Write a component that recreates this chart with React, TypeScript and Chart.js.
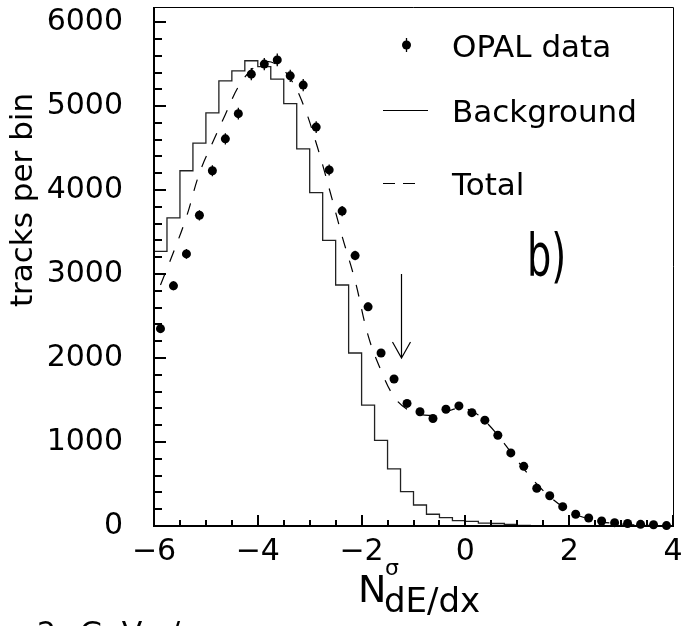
import React, { useEffect, useRef } from "react";
import { Chart, registerables } from "chart.js";

Chart.register(...registerables);

// ---- data ----
const BIN_EDGES = [
  -6, -5.75, -5.5, -5.25, -5, -4.75, -4.5, -4.25, -4, -3.75,
  -3.5, -3.25, -3, -2.75, -2.5, -2.25, -2, -1.75, -1.5, -1.25,
  -1, -0.75, -0.5, -0.25, 0, 0.25, 0.5, 0.75, 1, 1.25,
  1.5, 1.75, 2, 2.25, 2.5, 2.75, 3, 3.25, 3.5, 3.75, 4,
];
const BIN_CENTERS = [
  -5.875, -5.625, -5.375, -5.125, -4.875, -4.625, -4.375, -4.125, -3.875, -3.625,
  -3.375, -3.125, -2.875, -2.625, -2.375, -2.125, -1.875, -1.625, -1.375, -1.125,
  -0.875, -0.625, -0.375, -0.125, 0.125, 0.375, 0.625, 0.875, 1.125, 1.375,
  1.625, 1.875, 2.125, 2.375, 2.625, 2.875, 3.125, 3.375, 3.625, 3.875,
];
const OPAL_DATA = [
  2350, 2860, 3240, 3700, 4230, 4610, 4910, 5380, 5500, 5550,
  5360, 5250, 4750, 4240, 3750, 3220, 2610, 2060, 1750, 1460,
  1360, 1280, 1390, 1430, 1350, 1260, 1080, 870, 710, 450,
  360, 230, 140, 95, 60, 40, 30, 20, 15, 5,
];
const OPAL_ERR = [
  48, 53, 57, 61, 65, 68, 70, 73, 74, 75,
  73, 72, 69, 65, 61, 57, 51, 45, 42, 38,
  37, 36, 37, 38, 37, 35, 33, 29, 27, 21,
  19, 15, 12, 10, 8, 6, 5, 4, 4, 2,
];
const BACKGROUND = [
  2850, 3270, 3670, 4230, 4560, 4920, 5300, 5420, 5540, 5470,
  5320, 5030, 4490, 3970, 3400, 2870, 2060, 1440, 1020, 680,
  410, 250, 140, 100, 65, 55, 35, 30, 18, 8,
  4, 2, 0, 0, 0, 0, 0, 0, 0, 0,
];
const TOTAL = [
  2870, 3260, 3680, 4200, 4560, 4900, 5230, 5430, 5530, 5490,
  5330, 5020, 4560, 4020, 3450, 2920, 2270, 1850, 1540, 1390,
  1330, 1320, 1360, 1400, 1370, 1250, 1080, 880, 680, 500,
  350, 230, 140, 85, 50, 30, 18, 10, 6, 3,
];
const X_TICKS = [-6, -4, -2, 0, 2, 4];
const Y_TICKS = [0, 1000, 2000, 3000, 4000, 5000, 6000];
const Y_MAX = 6180;
const ARROW_X = -1.25;
const ARROW_FROM = 3000;
const ARROW_TO = 2000;

const FONT = '"DejaVu Sans"';

const overlay = {
  id: "overlay",
  afterDatasetsDraw(chart: any) {
    const { ctx, scales } = chart;
    const x = scales.x;
    const y = scales.y;
    ctx.save();
    // error bars
    ctx.strokeStyle = "#000";
    ctx.lineWidth = 1.3;
    ctx.beginPath();
    BIN_CENTERS.forEach((c, i) => {
      const px = x.getPixelForValue(c);
      ctx.moveTo(px, y.getPixelForValue(OPAL_DATA[i] + OPAL_ERR[i]));
      ctx.lineTo(px, y.getPixelForValue(OPAL_DATA[i] - OPAL_ERR[i]));
    });
    ctx.stroke();
    // arrow
    const ax = Math.round(x.getPixelForValue(ARROW_X)) + 0.5;
    const ay0 = y.getPixelForValue(ARROW_FROM);
    const ay1 = y.getPixelForValue(ARROW_TO);
    ctx.lineWidth = 1.2;
    ctx.beginPath();
    ctx.moveTo(ax, ay0);
    ctx.lineTo(ax, ay1);
    ctx.moveTo(ax - 9, ay1 - 16);
    ctx.lineTo(ax, ay1);
    ctx.lineTo(ax + 9, ay1 - 16);
    ctx.stroke();
    ctx.restore();
  },
  afterDraw(chart: any) {
    const { ctx, chartArea: a, scales } = chart;
    const x = scales.x;
    const y = scales.y;
    ctx.save();
    ctx.strokeStyle = "#000";
    ctx.fillStyle = "#000";
    // frame
    ctx.lineWidth = 1;
    ctx.beginPath();
    ctx.moveTo(a.left, a.top + 0.5);
    ctx.lineTo(a.right + 0.5, a.top + 0.5);
    ctx.lineTo(a.right + 0.5, a.bottom);
    ctx.stroke();
    ctx.lineWidth = 2;
    ctx.beginPath();
    ctx.moveTo(a.left, a.top);
    ctx.lineTo(a.left, a.bottom);
    ctx.lineTo(a.right + 1, a.bottom);
    ctx.stroke();
    // y ticks
    ctx.beginPath();
    for (let v = 0; v <= 6000; v += 200) {
      const py = Math.round(y.getPixelForValue(v));
      const len = v % 1000 === 0 ? 12 : 8;
      ctx.moveTo(a.left, py);
      ctx.lineTo(a.left + len, py);
    }
    // x ticks
    for (let v = -6; v <= 4; v += 0.5) {
      const px = Math.round(x.getPixelForValue(v));
      const len = X_TICKS.includes(v) ? 11 : 6;
      ctx.moveTo(px, a.bottom);
      ctx.lineTo(px, a.bottom - len);
    }
    ctx.stroke();

    // legend
    ctx.font = `31px ${FONT}`;
    ctx.textAlign = "left";
    ctx.textBaseline = "alphabetic";
    ctx.fillText("OPAL data", 452, 57);
    ctx.fillText("Background", 452, 122);
    ctx.fillText("Total", 452, 195);
    ctx.beginPath();
    ctx.arc(406.5, 45, 4.5, 0, Math.PI * 2);
    ctx.fill();
    ctx.lineWidth = 1.3;
    ctx.beginPath();
    ctx.moveTo(406.5, 38);
    ctx.lineTo(406.5, 52);
    ctx.stroke();
    ctx.lineWidth = 1.2;
    ctx.beginPath();
    ctx.moveTo(383, 110.5);
    ctx.lineTo(428, 110.5);
    ctx.moveTo(383, 183.5);
    ctx.lineTo(395, 183.5);
    ctx.moveTo(403, 183.5);
    ctx.lineTo(415, 183.5);
    ctx.stroke();

    // b)
    ctx.save();
    ctx.translate(527, 276);
    ctx.scale(0.66, 1);
    ctx.font = `58px ${FONT}`;
    ctx.fillText("b)", 0, 0);
    ctx.restore();

    // y title
    ctx.save();
    ctx.translate(32, 200);
    ctx.rotate(-Math.PI / 2);
    ctx.textAlign = "center";
    ctx.font = `31px ${FONT}`;
    ctx.fillText("tracks per bin", 0, 0);
    ctx.restore();

    // x title
    ctx.textAlign = "left";
    ctx.font = `38px ${FONT}`;
    ctx.fillText("N", 358, 602);
    ctx.font = `22px ${FONT}`;
    ctx.fillText("σ", 385, 575);
    ctx.font = `34px ${FONT}`;
    ctx.fillText("dE/dx", 384, 612);

    // partially visible text below the figure
    ctx.font = `30px ${FONT}`;
    ctx.fillText("2", 37, 643);
    ctx.fillText("GeV", 80, 643);
    ctx.fillText("/", 170, 643);
    ctx.restore();
  },
};

export default function App() {
  const ref = useRef<HTMLCanvasElement | null>(null);
  useEffect(() => {
    if (!ref.current) return;
    const bgPoints = BIN_EDGES.map((e, i) => ({
      x: e,
      y: BACKGROUND[Math.min(i, BACKGROUND.length - 1)],
    }));
    const chart = new Chart(ref.current, {
      type: "line",
      data: {
        datasets: [
          {
            label: "OPAL data",
            data: BIN_CENTERS.map((c, i) => ({ x: c, y: OPAL_DATA[i] })),
            showLine: false,
            pointRadius: 4.5,
            pointBackgroundColor: "#000",
            pointBorderColor: "#000",
            pointBorderWidth: 0,
            clip: false as any,
            order: 0,
          },
          {
            label: "Background",
            data: bgPoints,
            stepped: "after",
            borderColor: "#222",
            borderWidth: 1.3,
            pointRadius: 0,
            fill: false,
            order: 2,
          },
          {
            label: "Total",
            data: BIN_CENTERS.map((c, i) => ({ x: c, y: TOTAL[i] })),
            borderColor: "#000",
            borderWidth: 1.2,
            borderDash: [12, 13],
            tension: 0.4,
            pointRadius: 0,
            fill: false,
            order: 1,
          },
        ],
      },
      options: {
        animation: false,
        responsive: true,
        maintainAspectRatio: false,
        layout: { padding: { left: 0, top: 7, right: 21, bottom: 0 } },
        plugins: { legend: { display: false }, tooltip: { enabled: false } },
        scales: {
          x: {
            type: "linear",
            min: -6,
            max: 4,
            grid: { display: false, drawTicks: false },
            border: { display: false },
            afterBuildTicks: (s: any) => {
              s.ticks = X_TICKS.map((v) => ({ value: v }));
            },
            ticks: {
              padding: 8,
              color: "#000",
              font: { family: "DejaVu Sans", size: 30 },
              maxRotation: 0,
              autoSkip: false,
              callback: (v: any) => String(v).replace("-", "\u2212"),
            },
            afterFit: (s: any) => {
              s.height = 100;
              s.paddingLeft = 0;
              s.paddingRight = 0;
            },
          },
          y: {
            type: "linear",
            min: 0,
            max: Y_MAX,
            grid: { display: false, drawTicks: false },
            border: { display: false },
            afterBuildTicks: (s: any) => {
              s.ticks = Y_TICKS.map((v) => ({ value: v }));
            },
            ticks: {
              padding: 31,
              color: "#000",
              autoSkip: false,
              font: { family: "DejaVu Sans", size: 30 },
              callback: (v: any) => String(v),
            },
            afterFit: (s: any) => {
              s.width = 154;
              s.paddingTop = 0;
              s.paddingBottom = 0;
            },
          },
        },
      },
      plugins: [overlay],
    });
    return () => chart.destroy();
  }, []);
  return (
    <div style={{ position: "absolute", left: 0, top: 0, width: 694, height: 626, background: "#fff" }}>
      <canvas ref={ref} />
    </div>
  );
}
